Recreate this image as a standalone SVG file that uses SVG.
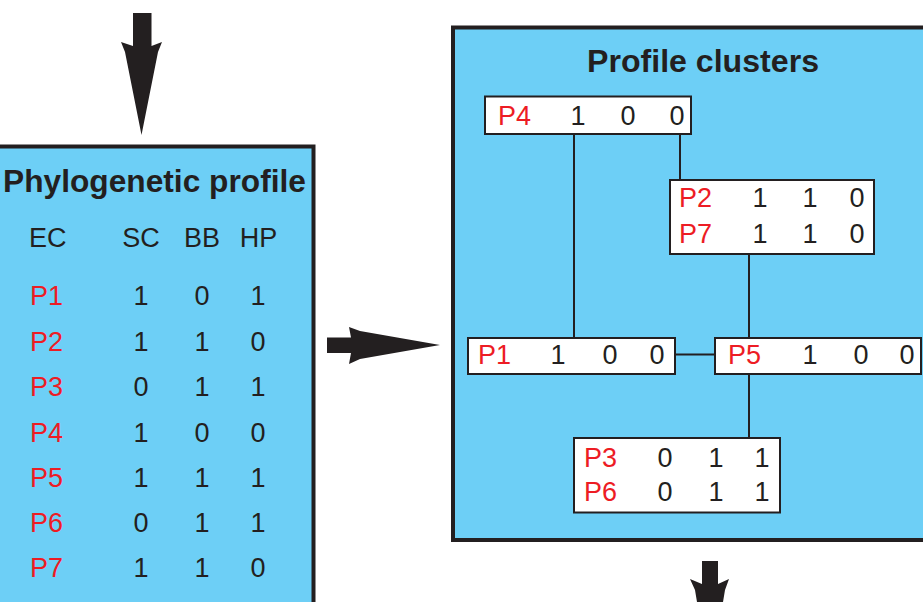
<svg xmlns="http://www.w3.org/2000/svg" width="923" height="602" viewBox="0 0 923 602">
  <style>
    .panel { fill: #6dcff6; stroke: #231f20; stroke-width: 4; }
    .box { fill: #ffffff; stroke: #231f20; stroke-width: 2; }
    .title { font-family: "Liberation Sans", Arial, sans-serif; font-weight: bold; font-size: 31px; fill: #231f20; }
    .t { font-family: "Liberation Sans", Arial, sans-serif; font-size: 27px; fill: #231f20; }
    .id { font-family: "Liberation Sans", Arial, sans-serif; font-size: 27px; fill: #ed1c24; }
    .num { text-anchor: middle; }
    .link { stroke: #231f20; stroke-width: 2; fill: none; }
    .arrow { fill: #231f20; }
  </style>
  <rect width="923" height="602" fill="#ffffff"/>

  <!-- Left panel: phylogenetic profile table -->
  <g id="phylogenetic-profile">
    <rect class="panel" x="-10" y="146.5" width="323.5" height="470"/>
    <text class="title" x="154.5" y="192" text-anchor="middle" textLength="303" lengthAdjust="spacingAndGlyphs">Phylogenetic profile</text>
    <text class="t" x="29" y="247">EC</text>
    <text class="t num" x="141" y="247">SC</text>
    <text class="t num" x="202" y="247">BB</text>
    <text class="t num" x="258.5" y="247">HP</text>
    <g>
      <text class="id" x="30" y="305">P1</text>
      <text class="t num" x="141" y="305">1</text><text class="t num" x="202" y="305">0</text><text class="t num" x="258" y="305">1</text>
      <text class="id" x="30" y="350.5">P2</text>
      <text class="t num" x="141" y="350.5">1</text><text class="t num" x="202" y="350.5">1</text><text class="t num" x="258" y="350.5">0</text>
      <text class="id" x="30" y="396">P3</text>
      <text class="t num" x="141" y="396">0</text><text class="t num" x="202" y="396">1</text><text class="t num" x="258" y="396">1</text>
      <text class="id" x="30" y="441.5">P4</text>
      <text class="t num" x="141" y="441.5">1</text><text class="t num" x="202" y="441.5">0</text><text class="t num" x="258" y="441.5">0</text>
      <text class="id" x="30" y="487">P5</text>
      <text class="t num" x="141" y="487">1</text><text class="t num" x="202" y="487">1</text><text class="t num" x="258" y="487">1</text>
      <text class="id" x="30" y="532">P6</text>
      <text class="t num" x="141" y="532">0</text><text class="t num" x="202" y="532">1</text><text class="t num" x="258" y="532">1</text>
      <text class="id" x="30" y="577">P7</text>
      <text class="t num" x="141" y="577">1</text><text class="t num" x="202" y="577">1</text><text class="t num" x="258" y="577">0</text>
    </g>
  </g>

  <!-- Right panel: profile clusters -->
  <g id="profile-clusters">
    <rect class="panel" x="453" y="27.5" width="490" height="512.5"/>
    <text class="title" x="703" y="71.5" text-anchor="middle" textLength="232" lengthAdjust="spacingAndGlyphs">Profile clusters</text>
  </g>

  <!-- Tree links between cluster nodes -->
  <g id="connectors">
    <line class="link" x1="574" y1="134" x2="574" y2="338"/>
    <line class="link" x1="680" y1="134" x2="680" y2="180"/>
    <line class="link" x1="749" y1="254" x2="749" y2="338"/>
    <line class="link" x1="675" y1="354.5" x2="715" y2="354.5"/>
    <line class="link" x1="749" y1="374" x2="749" y2="438"/>
  </g>

  <g id="node-p4">
    <rect class="box" x="485" y="96.5" width="206" height="37.5"/>
    <text class="id" x="498" y="125">P4</text>
    <text class="t num" x="578" y="125">1</text><text class="t num" x="628" y="125">0</text><text class="t num" x="677" y="125">0</text>
  </g>

  <g id="node-p2-p7">
    <rect class="box" x="670" y="180" width="204" height="74"/>
    <text class="id" x="679" y="206.5">P2</text>
    <text class="t num" x="760" y="206.5">1</text><text class="t num" x="810" y="206.5">1</text><text class="t num" x="857" y="206.5">0</text>
    <text class="id" x="679" y="242.5">P7</text>
    <text class="t num" x="760" y="242.5">1</text><text class="t num" x="810" y="242.5">1</text><text class="t num" x="857" y="242.5">0</text>
  </g>

  <g id="node-p1">
    <rect class="box" x="468" y="338" width="207" height="36"/>
    <text class="id" x="478" y="364">P1</text>
    <text class="t num" x="558" y="364">1</text><text class="t num" x="610" y="364">0</text><text class="t num" x="657" y="364">0</text>
  </g>

  <g id="node-p5">
    <rect class="box" x="715" y="338" width="206" height="36"/>
    <text class="id" x="728" y="364">P5</text>
    <text class="t num" x="810" y="364">1</text><text class="t num" x="861" y="364">0</text><text class="t num" x="907" y="364">0</text>
  </g>

  <g id="node-p3-p6">
    <rect class="box" x="574" y="438" width="206" height="74.5"/>
    <text class="id" x="584" y="466.5">P3</text>
    <text class="t num" x="665" y="466.5">0</text><text class="t num" x="716" y="466.5">1</text><text class="t num" x="762" y="466.5">1</text>
    <text class="id" x="584" y="501">P6</text>
    <text class="t num" x="665" y="501">0</text><text class="t num" x="716" y="501">1</text><text class="t num" x="762" y="501">1</text>
  </g>

  <!-- Flow arrows -->
  <g id="arrows">
    <polygon class="arrow" points="133,13 151.5,13 151.5,46 162,42 158,52 141.5,135 125,52 121,42 133,46"/>
    <polygon class="arrow" points="327,337.5 351,337.5 349,327 360,331 440,345 360,359 349,364 351,353 327,353"/>
    <polygon class="arrow" points="702,561 718,561 718,584 729,579 725,590 710,680 695,590 690,579 702,584"/>
  </g>
</svg>
